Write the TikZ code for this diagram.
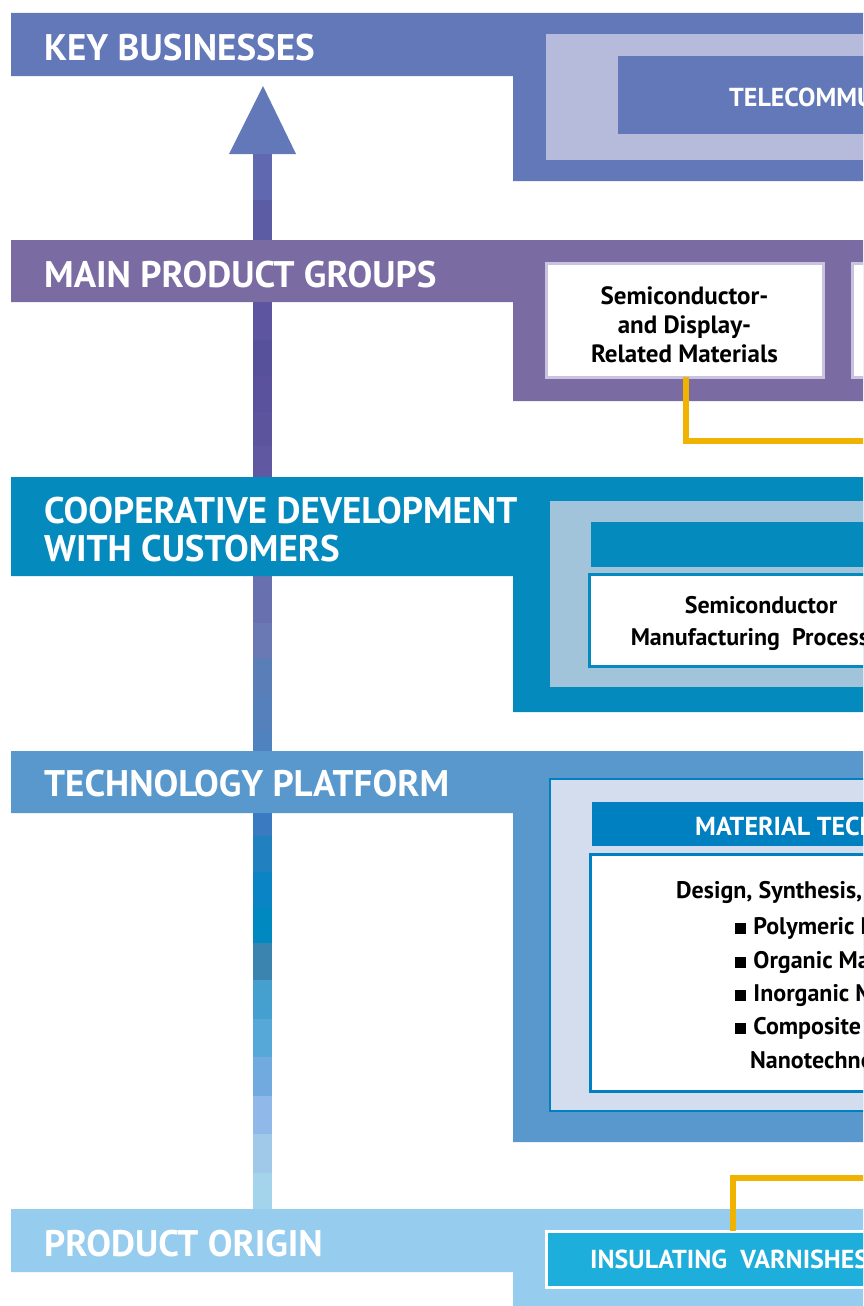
\documentclass[tikz,border=0pt]{standalone}
\usepackage{fontspec}
\setmainfont{PT Sans}
\usetikzlibrary{positioning}
\definecolor{KeyBlue}{HTML}{6278B8}
\definecolor{KeyPale}{HTML}{B6BBDB}
\definecolor{GroupPurple}{HTML}{7B6BA3}
\definecolor{GroupPale}{HTML}{C9C2E0}
\definecolor{CoopBlue}{HTML}{058ABD}
\definecolor{CoopPale}{HTML}{A2C4DA}
\definecolor{TechBlue}{HTML}{5898CC}
\definecolor{TechPale}{HTML}{D4DDEE}
\definecolor{TechDeep}{HTML}{0080C0}
\definecolor{OriginBlue}{HTML}{96CCEE}
\definecolor{OriginCyan}{HTML}{1EAEDC}
\definecolor{LinkGold}{HTML}{F0B400}

\begin{document}
\begin{tikzpicture}[
    x=1pt, y=-1pt,
    bandtitle/.style={anchor=base west, inner sep=0pt, text=white, align=left,
                      font=\bfseries\fontsize{37}{38}\selectfont},
    boxtitle/.style={anchor=base west, inner sep=0pt, text=white,
                     font=\bfseries\fontsize{26}{28}\selectfont},
    bodytext/.style={inner sep=0pt, text=black, font=\bfseries\fontsize{24}{31}\selectfont},
    panel/.style={anchor=north west, inner sep=0pt, outer sep=0pt},
    link/.style={LinkGold, line width=6pt}
]
    \useasboundingbox (0,0) rectangle (863,1306);
    \clip (0,0) rectangle (863,1306);
    \fill[white] (0,0) rectangle (863,1306);

    % Rising arrow behind the bands, stepping from pale blue up to violet
    \foreach \ya/\yb/\hex in {154/200/6068B0, 200/240/5C5CA4, 302/340/5D55A0,
            340/376/57509A, 376/412/5A529C, 412/446/5C559E, 446/477/6058A0,
            576/623/6870B0, 623/658/6A78B4, 658/695/5A7EB8, 695/730/5680BC,
            730/751/5082C0, 813/836/3A7AC0, 836/872/2080C0, 872/907/0A84C4,
            907/943/0088C0, 943/980/3C84B0, 980/1019/45A0CF, 1019/1057/55A8D8,
            1057/1096/70AADE, 1096/1134/90B8E8, 1134/1173/A0C8E8, 1173/1209/A4D4EC}{
        \definecolor{stepcol}{HTML}{\hex}
        \fill[stepcol] (253,\ya) rectangle (272,\yb);
    }
    \fill[KeyBlue] (229,154) -- (263,86) -- (296,154) -- cycle;

    % Bands: title strip on the left, block on the right
    \foreach \col/\ya/\yb/\yc in {KeyBlue/13/76/181, GroupPurple/240/302/401,
            CoopBlue/477/576/712, TechBlue/751/813/1142, OriginBlue/1209/1272/1320}
        \fill[\col] (11,\ya) -| (880,\yc) -| (513,\yb) -- (11,\yb) -- cycle;

    \node[bandtitle] (key) at (44,60) {KEY BUSINESSES};
    \node[bandtitle] (groups) at (44,287) {MAIN PRODUCT GROUPS};
    \node[bandtitle, anchor=north west] (coop) at (44,497)
        {COOPERATIVE DEVELOPMENT\\WITH CUSTOMERS};
    \node[bandtitle] (tech) at (44,796) {TECHNOLOGY PLATFORM};
    \node[bandtitle] (origin) at (44,1256) {PRODUCT ORIGIN};

    % Key businesses
    \fill[KeyPale] (546,34) rectangle (880,160);
    \fill[KeyBlue] (618,56) rectangle (880,134);
    \node[boxtitle] (telecom) at (729,106) {TELECOMMUNICATIONS};

    % Main product groups
    \node[panel, fill=white, draw=GroupPale, line width=3pt,
          minimum width=277pt, minimum height=114pt] (semibox) at (546,263) {};
    \node[bodytext, align=center, font=\bfseries\fontsize{25}{29}\selectfont]
        (semitext) at ([yshift=-5pt]semibox.center)
        {Semiconductor-\\and Display-\\Related Materials};
    \node[panel, fill=white, draw=GroupPale, line width=3pt,
          minimum width=60pt, minimum height=114pt] (nextbox) at (852,263) {};

    % Cooperative development
    \fill[CoopPale] (550,501) rectangle (880,687);
    \fill[CoopBlue] (591,522) rectangle (880,567);
    \node[panel, fill=white, draw=CoopBlue, line width=3pt,
          minimum width=300pt, minimum height=92pt] (procbox) at (589,574) {};
    \node[bodytext, align=center, font=\bfseries\fontsize{24}{32}\selectfont]
        (proctext) at (761,623)
        {Semiconductor\\Manufacturing\ \ Processes};

    % Technology platform
    \fill[TechPale, draw=TechDeep, line width=2pt] (550,779) rectangle (880,1111);
    \fill[TechDeep] (592,802) rectangle (880,846);
    \node[boxtitle] (material) at (695,835) {MATERIAL TECHNOLOGY};
    \node[panel, fill=white, draw=TechDeep, line width=3pt,
          minimum width=300pt, minimum height=237pt] (techbox) at (590,854) {};
    \node[bodytext, anchor=base west] (design) at (676,898) {Design, Synthesis,};
    \foreach \y/\item in {934/Polymeric Materials, 968/Organic Materials,
            1001/Inorganic Materials, 1034/Composite Materials}
        \node[bodytext, anchor=base west] (item\y) at (735,\y)
            {\rule{0.46em}{0.46em}\hspace{0.3em}\item};
    \node[bodytext, anchor=base west] (nano) at (750,1068) {Nanotechnology};

    % Product origin
    \node[panel, fill=OriginCyan, draw=white, line width=3pt,
          minimum width=340pt, minimum height=56pt] (varnish) at (546,1231) {};
    \node[boxtitle] (varnishtext) at (590,1268) {INSULATING\ \ VARNISHES};

    % Gold links
    \coordinate (linkA) at (880,441);
    \coordinate (linkB) at (880,1178);
    \draw[link] ([xshift=140pt]semibox.south west) |- (linkA);
    \draw[link] ([xshift=187pt]varnish.north west) |- (linkB);
\end{tikzpicture}
\end{document}
